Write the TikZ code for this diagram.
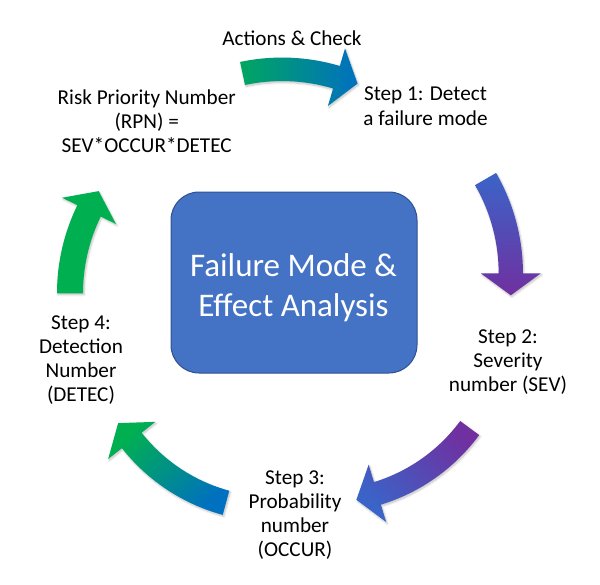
\documentclass[tikz,border=0pt]{standalone}
\usepackage{fontspec}
\setmainfont{Carlito}
\usetikzlibrary{calc,shadows.blur}
\definecolor{fmgreen}{RGB}{0,176,80}
\definecolor{fmblue}{RGB}{0,112,192}
\definecolor{fmpurple}{RGB}{112,48,160}
\definecolor{fmroyal}{RGB}{58,100,200}
\definecolor{fmbox}{RGB}{68,114,196}
\definecolor{fmboxline}{RGB}{47,82,143}
\newcommand\fmarrow[6]{%
  \pgfmathsetmacro\fmRo{#2+#5/2}%
  \pgfmathsetmacro\fmRi{#2-#5/2}%
  \pgfmathsetmacro\fmHo{#2+30}%
  \pgfmathsetmacro\fmHi{#2-30}%
  \pgfmathsetmacro\fmTa{#4+90}%
  \path[#6] ($(#1)+(#3:\fmRo)$) arc[start angle=#3,end angle=#4,radius=\fmRo]
    -- ($(#1)+(#4:\fmHo)$) -- ($(#1)+(#4:#2)+(\fmTa:22)$) -- ($(#1)+(#4:\fmHi)$)
    -- ($(#1)+(#4:\fmRi)$) arc[start angle=#4,end angle=#3,radius=\fmRi] -- cycle;
}
\tikzset{
  lbl/.style={font=\fontsize{21.2}{24.2}\selectfont, align=center, anchor=base, inner sep=0pt},
  arrowshadow/.style={blur shadow={shadow xshift=1pt, shadow yshift=-1.5pt, shadow blur steps=6, shadow opacity=25, shadow blur radius=2pt}}
}
\begin{document}
\begin{tikzpicture}[x=1pt,y=1pt,yscale=-1]
\useasboundingbox (0,0) rectangle (600,584);
% central box
\node[draw=fmboxline, line width=1pt, fill=fmbox, rounded corners=28pt,
      minimum width=246pt, minimum height=181pt, inner sep=0pt] (box) at (294,282.5) {};
\node[font=\fontsize{33}{40}\selectfont, text=white, align=center, anchor=base, inner sep=0pt] (title) at (293.5,316.7)
  {Failure Mode \&\\Effect Analysis};
% arrows
\fmarrow{282.1,259.6}{190.3}{-102}{-73.4}{23.5}{arrowshadow, left color=fmgreen!85!fmblue, right color=fmblue}
\fmarrow{322.3,273.3}{188.5}{-30}{0}{24.3}{arrowshadow, top color=fmroyal, bottom color=fmpurple}
\fmarrow{324.8,321.2}{180}{36.4}{73}{23.6}{arrowshadow, top color=fmpurple, bottom color=fmroyal, shading angle=-45}
\fmarrow{273.2,329.1}{180}{105.2}{141.8}{25}{arrowshadow, top color=fmgreen, bottom color=fmblue, shading angle=45}
\fmarrow{258,293.3}{188}{180}{206}{26}{arrowshadow, fill=fmgreen}
% labels (anchor = baseline of last line)
\node[lbl] (act) at (292,45) {Actions \& Check};
\node[lbl] (rpn) at (146.7,152.7) {Risk Priority Number\\(RPN) =\\SEV*OCCUR*DETEC};
\node[lbl] (s1) at (425.5,125) {Step 1: Detect\\a failure mode};
\node[lbl] (s2) at (508,391.4) {Step 2:\\Severity\\number (SEV)};
\node[lbl] (s3) at (295,556.7) {Step 3:\\Probability\\number\\(OCCUR)};
\node[lbl] (s4) at (81,401.7) {Step 4:\\Detection\\Number\\(DETEC)};
\end{tikzpicture}
\end{document}
